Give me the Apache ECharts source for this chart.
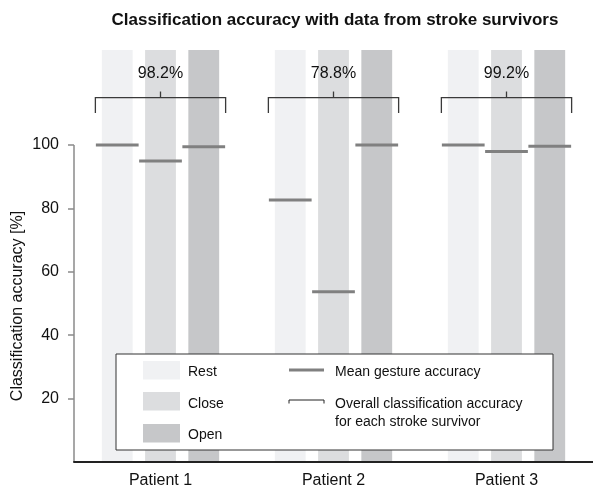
<!DOCTYPE html>
<html>
<head>
<meta charset="utf-8">
<script src="https://cdn.jsdelivr.net/npm/echarts@6/dist/echarts.min.js"></script>
<style>html,body{margin:0;padding:0;background:#fff}#c{width:593px;height:491px}</style>
</head>
<body>
<div id="c"></div>
<script>
const patients = ['Patient 1', 'Patient 2', 'Patient 3'];
const gestures = ['Rest', 'Close', 'Open'];
const restMean = [100, 82.7, 100];
const closeMean = [95.0, 53.7, 98.0];
const openMean = [99.5, 100, 99.6];
const overallAccuracy = ['98.2%', '78.8%', '99.2%'];
const yTicks = [20, 40, 60, 80, 100];

const FONT = 'Liberation Sans, Arial, Helvetica, sans-serif';
const gestureColors = ['#f0f1f3', '#dcdddf', '#c6c7c9'];
const means = [restMean, closeMean, openMean];
const Y_MAX = 130;
const BAR_FRAC = 31 / 174;
const OFFSET_FRAC = 43.5 / 174;
const MEAN_FRAC = 43 / 174;
const BRACKET_HALF = 65.5 / 174;
const BRACKET_Y = 115;   // axis units (style)
const BRACKET_LEG = 4.9;
const BRACKET_TICK = 1.9;
const LABEL_Y = 122.5;

const chart = echarts.init(document.getElementById('c'));

const bgSeries = gestures.map((g, gi) => ({
  type: 'custom', name: g + ' bg', z: 1, silent: true,
  renderItem: (params, api) => {
    const i = api.value(0);
    const band = api.size([1, 0])[0];
    const b = api.coord([i, 0]);
    const t = api.coord([i, Y_MAX]);
    const w = band * BAR_FRAC;
    const cx = b[0] + (gi - 1) * band * OFFSET_FRAC;
    return { type: 'rect', shape: { x: cx - w / 2, y: t[1], width: w, height: b[1] - t[1] },
             style: { fill: gestureColors[gi] } };
  },
  data: patients.map((p, i) => [i, means[gi][i]])
}));

const meanSeries = gestures.map((g, gi) => ({
  type: 'custom', name: g, z: 3, silent: true,
  renderItem: (params, api) => {
    const i = api.value(0);
    const band = api.size([1, 0])[0];
    const p = api.coord([i, api.value(1)]);
    const cx = p[0] + (gi - 1) * band * OFFSET_FRAC;
    const lw = band * MEAN_FRAC;
    return { type: 'line', shape: { x1: cx - lw / 2, y1: p[1], x2: cx + lw / 2, y2: p[1] },
             style: { stroke: '#808080', lineWidth: 3 } };
  },
  data: patients.map((p, i) => [i, means[gi][i]])
}));

const bracketSeries = {
  type: 'custom', z: 4, silent: true,
  renderItem: (params, api) => {
    const i = api.value(0);
    const band = api.size([1, 0])[0];
    const c = api.coord([i, BRACKET_Y]);
    const legY = api.coord([i, BRACKET_Y - BRACKET_LEG])[1];
    const tickY = api.coord([i, BRACKET_Y + BRACKET_TICK])[1];
    const labY = api.coord([i, LABEL_Y])[1];
    const hw = band * BRACKET_HALF;
    return { type: 'group', children: [
      { type: 'polyline', shape: { points: [[c[0] - hw, legY], [c[0] - hw, c[1]], [c[0] + hw, c[1]], [c[0] + hw, legY]] },
        style: { stroke: '#3a3a3a', lineWidth: 1.3, fill: null } },
      { type: 'line', shape: { x1: c[0], y1: c[1], x2: c[0], y2: tickY },
        style: { stroke: '#3a3a3a', lineWidth: 1.3 } },
      { type: 'text', x: c[0], y: labY,
        style: { text: overallAccuracy[i], fontSize: 16, fontFamily: FONT, fill: '#111', align: 'center', verticalAlign: 'middle' } }
    ] };
  },
  data: patients.map((p, i) => [i, parseFloat(overallAccuracy[i])])
};

const yAxisLineSeries = {
  type: 'custom', z: 5, silent: true,
  renderItem: (params, api) => {
    const x = params.coordSys.x;
    const y0 = api.coord([0, 0])[1];
    const y1 = api.coord([0, api.value(1)])[1];
    return { type: 'line', shape: { x1: x, y1: y0, x2: x, y2: y1 },
             style: { stroke: '#8a8a8a', lineWidth: 1.5 } };
  },
  data: [[0, yTicks[yTicks.length - 1]]]
};

const LX = 116, LY = 354, LW = 437, LH = 96;
const legendGraphics = [
  { type: 'rect', z: 100, shape: { x: LX, y: LY, width: LW, height: LH }, style: { fill: '#fff', stroke: '#333', lineWidth: 1 } },
  { type: 'rect', z: 101, shape: { x: 143, y: 361, width: 37, height: 18.5 }, style: { fill: gestureColors[0] } },
  { type: 'rect', z: 101, shape: { x: 143, y: 392, width: 37, height: 18.5 }, style: { fill: gestureColors[1] } },
  { type: 'rect', z: 101, shape: { x: 143, y: 424, width: 37, height: 18.5 }, style: { fill: gestureColors[2] } },
  { type: 'text', z: 101, x: 188, y: 372, style: { text: gestures[0], fontSize: 14, fontFamily: FONT, fill: '#111', verticalAlign: 'middle' } },
  { type: 'text', z: 101, x: 188, y: 404, style: { text: gestures[1], fontSize: 14, fontFamily: FONT, fill: '#111', verticalAlign: 'middle' } },
  { type: 'text', z: 101, x: 188, y: 435, style: { text: gestures[2], fontSize: 14, fontFamily: FONT, fill: '#111', verticalAlign: 'middle' } },
  { type: 'line', z: 101, shape: { x1: 289, y1: 370, x2: 324, y2: 370 }, style: { stroke: '#808080', lineWidth: 3 } },
  { type: 'polyline', z: 101, shape: { points: [[289, 403.5], [289, 400], [324, 400], [324, 403.5]] }, style: { stroke: '#222', lineWidth: 1, fill: null } },
  { type: 'text', z: 101, x: 335, y: 372, style: { text: 'Mean gesture accuracy', fontSize: 14, fontFamily: FONT, fill: '#111', verticalAlign: 'middle' } },
  { type: 'text', z: 101, x: 335, y: 404, style: { text: 'Overall classification accuracy', fontSize: 14, fontFamily: FONT, fill: '#111', verticalAlign: 'middle' } },
  { type: 'text', z: 101, x: 335, y: 422, style: { text: 'for each stroke survivor', fontSize: 14, fontFamily: FONT, fill: '#111', verticalAlign: 'middle' } },
  { type: 'text', z: 101, x: 335, y: 20, style: { text: 'Classification accuracy with data from stroke survivors', fontSize: 17, fontWeight: 'bold', fontFamily: FONT, fill: '#111', align: 'center', verticalAlign: 'middle' } },
  { type: 'text', z: 101, x: 18, y: 306, rotation: Math.PI / 2,
    style: { text: 'Classification accuracy [%]', fontSize: 16, fontFamily: FONT, fill: '#111', align: 'center', verticalAlign: 'middle' } }
];

chart.setOption({
  animation: false,
  backgroundColor: '#fff',
  grid: { left: 74, top: 50, width: 522, height: 412, containLabel: false },
  xAxis: {
    type: 'category', data: patients, z: 6,
    axisLine: { lineStyle: { color: '#222', width: 2 } },
    axisTick: { alignWithLabel: true, length: 5, lineStyle: { color: '#999' } },
    axisLabel: { fontSize: 16, fontFamily: FONT, color: '#111', margin: 11 },
    splitLine: { show: false }
  },
  yAxis: {
    type: 'value', min: 0, max: Y_MAX, interval: 10,
    axisLine: { show: false },
    axisTick: { show: true, length: 6, customValues: yTicks, lineStyle: { color: '#8a8a8a', width: 1.5 } },
    axisLabel: { fontSize: 16, fontFamily: FONT, color: '#111', margin: 15, customValues: yTicks },
    splitLine: { show: false }
  },
  graphic: legendGraphics,
  series: [...bgSeries, ...meanSeries, bracketSeries, yAxisLineSeries]
});
</script>
</body>
</html>
